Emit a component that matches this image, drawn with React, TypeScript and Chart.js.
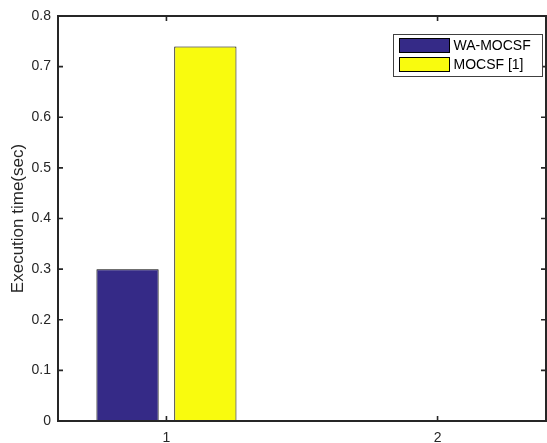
import React, { useEffect, useRef } from "react";
import { Chart, registerables } from "chart.js";

Chart.register(...registerables);

const categories = [1, 2];
const xTickLabels = ["1", "2"];
const waMocsf = [0.3, 0];
const mocsf = [0.74, 0];
const seriesNames = ["WA-MOCSF", "MOCSF [1]"];
const seriesColors = ["#352a87", "#f9fb0e"];
const yTicks = [0, 0.1, 0.2, 0.3, 0.4, 0.5, 0.6, 0.7, 0.8];
const yTickLabels = ["0", "0.1", "0.2", "0.3", "0.4", "0.5", "0.6", "0.7", "0.8"];
const yTitle = "Execution time(sec)";

const FONT = "'Liberation Sans', Arial, Helvetica, sans-serif";
const AXIS_COLOR = "#262626";

const framePlugin = {
  id: "matlabFrame",
  afterDatasetsDraw(chart: any) {
    const { ctx, chartArea, scales } = chart;
    const { left, right, top, bottom } = chartArea;
    ctx.save();
    ctx.strokeStyle = AXIS_COLOR;
    ctx.lineWidth = 2;
    ctx.beginPath();
    ctx.rect(left, top, right - left, bottom - top);
    ctx.stroke();
    const tl = 5;
    ctx.lineWidth = 1.6;
    ctx.beginPath();
    for (const v of yTicks) {
      const y = scales.y.getPixelForValue(v);
      ctx.moveTo(left, y);
      ctx.lineTo(left + tl, y);
      ctx.moveTo(right, y);
      ctx.lineTo(right - tl, y);
    }
    for (const v of categories) {
      const x = scales.x.getPixelForValue(v);
      ctx.moveTo(x, bottom);
      ctx.lineTo(x, bottom - tl);
      ctx.moveTo(x, top);
      ctx.lineTo(x, top + tl);
    }
    ctx.stroke();
    ctx.restore();
  },
  afterDraw(chart: any) {
    const { ctx, chartArea } = chart;
    const bw = 149;
    const bh = 42;
    const bx = Math.round(chartArea.right - 4 - bw) + 0.5;
    const by = Math.round(chartArea.top + 18) + 0.5;
    ctx.save();
    ctx.fillStyle = "#ffffff";
    ctx.fillRect(bx, by, bw, bh);
    ctx.strokeStyle = "#404040";
    ctx.lineWidth = 1;
    ctx.strokeRect(bx, by, bw, bh);
    ctx.font = `14px ${FONT}`;
    ctx.textBaseline = "middle";
    ctx.textAlign = "left";
    chart.data.datasets.forEach((ds: any, i: number) => {
      const sy = by + 4 + i * 19;
      ctx.fillStyle = ds.backgroundColor;
      ctx.fillRect(bx + 6, sy, 50, 14);
      ctx.strokeStyle = "#000000";
      ctx.strokeRect(bx + 6, sy, 50, 14);
      ctx.fillStyle = "#000000";
      ctx.fillText(ds.label, bx + 60, sy + 7.5);
    });
    ctx.restore();
  },
};

export default function App() {
  const ref = useRef<HTMLCanvasElement | null>(null);
  useEffect(() => {
    if (!ref.current) return;
    const chart = new Chart(ref.current, {
      type: "bar",
      data: {
        datasets: [
          {
            label: seriesNames[0],
            data: categories.map((c, i) => ({ x: c, y: waMocsf[i] })),
            backgroundColor: seriesColors[0],
            borderColor: "#000000",
            borderWidth: 1,
          },
          {
            label: seriesNames[1],
            data: categories.map((c, i) => ({ x: c, y: mocsf[i] })),
            backgroundColor: seriesColors[1],
            borderColor: "#000000",
            borderWidth: 1,
          },
        ],
      },
      options: {
        responsive: false,
        animation: false,
        devicePixelRatio: 1,
        layout: { padding: { top: 16, right: 1, left: 0, bottom: 0 } },
        datasets: { bar: { categoryPercentage: 0.574, barPercentage: 0.8 } },
        plugins: { legend: { display: false }, tooltip: { enabled: false } },
        scales: {
          x: {
            type: "linear",
            min: 0.6,
            max: 2.4,
            offset: false,
            grid: { display: false, drawTicks: false },
            border: { display: false },
            afterBuildTicks: (s: any) => {
              s.ticks = categories.map((v) => ({ value: v }));
            },
            afterFit: (s: any) => {
              s.height = 22;
            },
            ticks: {
              autoSkip: false,
              maxRotation: 0,
              padding: 9,
              color: AXIS_COLOR,
              font: { family: FONT, size: 14 },
              callback: (v: any) => {
                const k = categories.indexOf(Number(v));
                return k >= 0 ? xTickLabels[k] : "";
              },
            },
          },
          y: {
            min: 0,
            max: 0.8,
            grid: { display: false, drawTicks: false },
            border: { display: false },
            afterBuildTicks: (s: any) => {
              s.ticks = yTicks.map((v) => ({ value: v }));
            },
            afterFit: (s: any) => {
              s.width = 58;
            },
            ticks: {
              padding: 7,
              color: AXIS_COLOR,
              font: { family: FONT, size: 14 },
              callback: (_v: any, i: number) => yTickLabels[i],
            },
            title: {
              display: true,
              text: yTitle,
              color: AXIS_COLOR,
              font: { family: FONT, size: 17 },
              padding: { top: 8, bottom: 0 },
            },
          },
        },
      },
      plugins: [framePlugin],
    } as any);
    return () => chart.destroy();
  }, []);
  return (
    <div style={{ position: "absolute", left: 0, top: 0, width: 547, height: 443, background: "#fff" }}>
      <canvas ref={ref} width={547} height={443} style={{ display: "block" }} />
    </div>
  );
}
